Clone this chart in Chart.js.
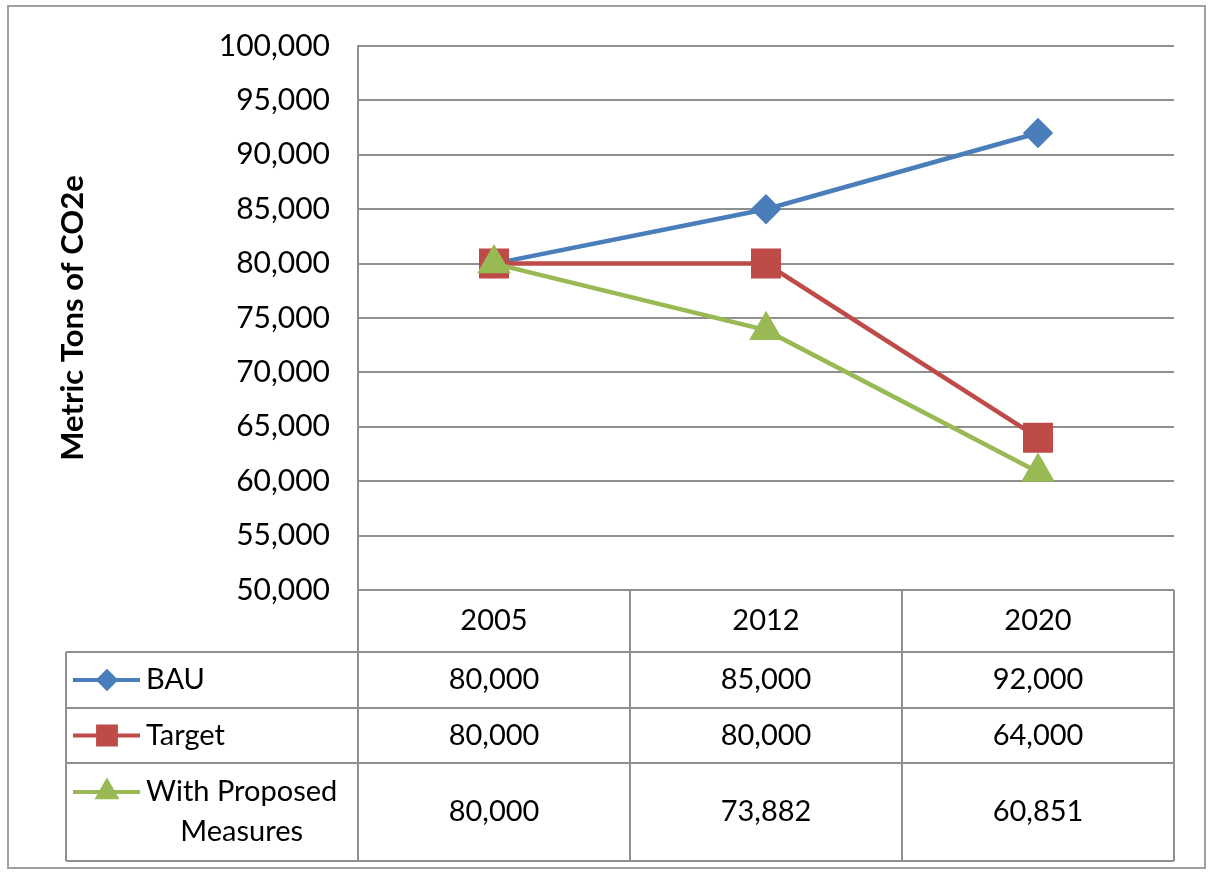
<!DOCTYPE html>
<html lang="en">
<head>
<meta charset="UTF-8">
<title>Metric Tons of CO2e</title>
<style>
  body { margin: 0; background: #fff; }
  canvas { display: block; }
</style>
</head>
<body>
<canvas id="myCanvas" width="1209" height="874"></canvas>
<script src="https://cdn.jsdelivr.net/npm/chart.js@4.4.1/dist/chart.umd.min.js"></script>
<script>
// data
const years = ['2005', '2012', '2020'];
const bau = [80000, 85000, 92000];
const target = [80000, 80000, 64000];
const proposed = [80000, 73882, 60851];
const seriesNames = ['BAU', 'Target', ['With Proposed', 'Measures']];
const yTicks = [50000, 55000, 60000, 65000, 70000, 75000, 80000, 85000, 90000, 95000, 100000];

const FONT = 'Lato, "Open Sans", sans-serif';
const GRID = '#8f8f8f';
const fmt = v => v.toLocaleString('en-US');

// frame + data table under the plot, laid out from the x scale
const tablePlugin = {
  id: 'dataTable',
  beforeDraw(chart) {
    const ctx = chart.ctx;
    ctx.save();
    ctx.fillStyle = '#fff';
    ctx.fillRect(0, 0, chart.width, chart.height);
    ctx.strokeStyle = '#a0a0a0';
    ctx.lineWidth = 2;
    ctx.strokeRect(8, 6, 1197, 862);
    ctx.restore();
  },
  afterDraw(chart) {
    const ctx = chart.ctx;
    const area = chart.chartArea;
    const xs = chart.scales.x;
    const n = chart.data.labels.length;
    const colW = (area.right - area.left) / n;
    const tableLeft = 66;
    const rowH = [62, 56, 55, 98];   // header, then one per series
    const rowTop = [area.bottom];
    rowH.forEach((h, i) => rowTop.push(rowTop[i] + h));
    const bottom = rowTop[rowTop.length - 1];

    ctx.save();
    ctx.strokeStyle = GRID;
    ctx.lineWidth = 2;
    ctx.beginPath();
    ctx.moveTo(area.left, rowTop[0]); ctx.lineTo(area.right, rowTop[0]);
    for (let i = 1; i < rowTop.length; i++) {
      ctx.moveTo(tableLeft, rowTop[i]); ctx.lineTo(area.right, rowTop[i]);
    }
    ctx.moveTo(tableLeft, rowTop[1]); ctx.lineTo(tableLeft, bottom);
    for (let c = 0; c <= n; c++) {
      const x = area.left + c * colW;
      ctx.moveTo(x, rowTop[0]); ctx.lineTo(x, bottom);
    }
    ctx.stroke();

    ctx.fillStyle = '#000';
    ctx.font = '29px ' + FONT;
    ctx.textAlign = 'center';
    ctx.textBaseline = 'middle';
    chart.data.labels.forEach((lab, i) => {
      ctx.fillText(lab, xs.getPixelForValue(i), rowTop[0] + rowH[0] / 2);
    });

    chart.data.datasets.forEach((ds, r) => {
      const cy = rowTop[r + 1] + rowH[r + 1] / 2;
      ds.data.forEach((v, i) => {
        ctx.fillStyle = '#000';
        ctx.fillText(fmt(v), xs.getPixelForValue(i), cy);
      });
      // legend key
      const name = seriesNames[r];
      const lines = Array.isArray(name) ? name : [name];
      const keyY = lines.length > 1 ? cy - 20 : cy;
      ctx.strokeStyle = ds.borderColor;
      ctx.lineWidth = 4;
      ctx.beginPath();
      ctx.moveTo(73, keyY); ctx.lineTo(140, keyY);
      ctx.stroke();
      ctx.fillStyle = ds.backgroundColor;
      ctx.strokeStyle = ds.borderColor;
      Chart.helpers.drawPoint(ctx, {
        pointStyle: ds.pointStyle,
        radius: ds.pointRadius * 0.7,
        rotation: 0,
        borderWidth: 1
      }, 107, keyY);
      ctx.fillStyle = '#000';
      ctx.textAlign = 'left';
      if (lines.length === 1) {
        ctx.fillText(lines[0], 146, keyY);
      } else {
        const w0 = ctx.measureText(lines[0]).width;
        ctx.fillText(lines[0], 146, keyY);
        ctx.textAlign = 'center';
        ctx.fillText(lines[1], 146 + w0 / 2, keyY + 40);
      }
      ctx.textAlign = 'center';
    });
    ctx.restore();
  }
};

const ctx = document.getElementById('myCanvas').getContext('2d');
const myChart = new Chart(ctx, {
  type: 'line',
  data: {
    labels: years,
    datasets: [{
      label: 'BAU',
      data: bau,
      order: 3,
      borderColor: '#4a7ebb',
      backgroundColor: '#4a7ebb',
      borderWidth: 4.5,
      pointStyle: 'rectRot',
      pointRadius: 12
    }, {
      label: 'Target',
      data: target,
      order: 2,
      borderColor: '#be4b48',
      backgroundColor: '#be4b48',
      borderWidth: 4.5,
      pointStyle: 'rect',
      pointRadius: 18
    }, {
      label: 'With Proposed Measures',
      data: proposed,
      order: 1,
      borderColor: '#98b954',
      backgroundColor: '#98b954',
      borderWidth: 4.5,
      pointStyle: 'triangle',
      pointRadius: 15
    }]
  },
  options: {
    responsive: false,
    animation: false,
    devicePixelRatio: 1,
    layout: { padding: { left: 0, top: 43, right: 35, bottom: 284 } },
    plugins: { legend: { display: false }, tooltip: { enabled: false } },
    elements: { line: { tension: 0 }, point: { borderWidth: 1 } },
    scales: {
      x: { display: false, offset: true },
      y: {
        min: 50000,
        max: 100000,
        afterFit: s => { s.width = 358; },
        afterBuildTicks: s => { s.ticks = yTicks.map(v => ({ value: v })); },
        border: { display: true, color: GRID, width: 2 },
        grid: { color: GRID, lineWidth: 2, drawTicks: false },
        ticks: {
          padding: 28,
          color: '#000',
          font: { family: FONT, size: 30 },
          callback: v => fmt(v)
        },
        title: {
          display: true,
          text: 'Metric Tons of CO2e',
          color: '#000',
          font: { family: FONT, size: 31, weight: 'bold' },
          padding: { top: 54, bottom: 0 }
        }
      }
    }
  },
  plugins: [tablePlugin]
});
</script>
</body>
</html>
